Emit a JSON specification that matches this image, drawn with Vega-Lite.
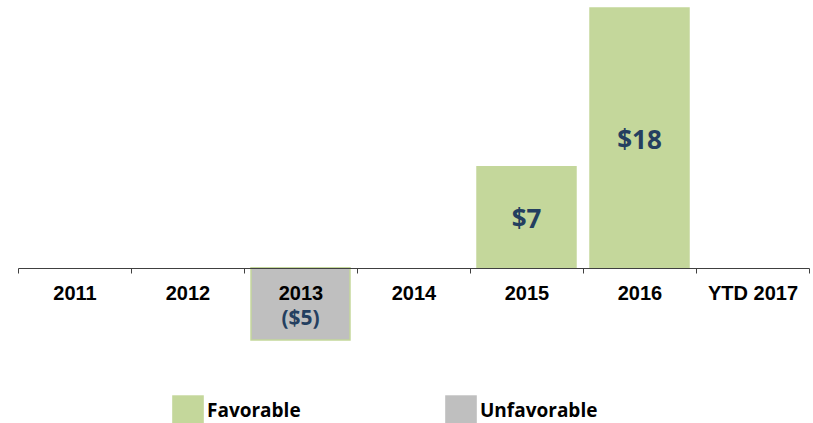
{
  "$schema": "https://vega.github.io/schema/vega-lite/v6.json",
  "autosize": "none",
  "width": 791,
  "height": 332,
  "padding": {"left": 18, "top": 8, "right": 4, "bottom": 83},
  "background": "white",
  "config": {"view": {"stroke": null}},
  "data": {
    "values": [
      {"year": "2011", "value": null, "type": null, "label": ""},
      {"year": "2012", "value": null, "type": null, "label": ""},
      {"year": "2013", "value": -5, "type": "Unfavorable", "label": "($5)"},
      {"year": "2014", "value": null, "type": null, "label": ""},
      {"year": "2015", "value": 7, "type": "Favorable", "label": "$7"},
      {"year": "2016", "value": 18, "type": "Favorable", "label": "$18"},
      {"year": "YTD 2017", "value": null, "type": null, "label": ""}
    ]
  },
  "encoding": {
    "x": {
      "field": "year",
      "type": "nominal",
      "scale": {
        "domain": ["2011", "2012", "2013", "2014", "2015", "2016", "YTD 2017"],
        "paddingInner": 0,
        "paddingOuter": 0
      },
      "axis": {
        "title": null,
        "orient": "bottom",
        "offset": -72,
        "labelAngle": 0,
        "tickBand": "extent",
        "tickSize": 5,
        "tickColor": "#404040",
        "domainColor": "#404040",
        "labelFont": "Liberation Sans",
        "labelFontWeight": "bold",
        "labelFontSize": 20,
        "labelColor": "#000000",
        "labelPadding": 10,
        "zindex": 1
      }
    }
  },
  "layer": [
    {
      "mark": {"type": "bar", "stroke": "#C4D79B", "strokeWidth": 1.5, "width": {"band": 0.876}},
      "encoding": {
        "y": {
          "field": "value",
          "type": "quantitative",
          "scale": {"domain": [-5, 18], "nice": false, "zero": false},
          "axis": null
        },
        "color": {
          "field": "type",
          "type": "nominal",
          "scale": {"domain": ["Favorable", "Unfavorable"], "range": ["#C4D79B", "#BFBFBF"]},
          "legend": {
            "title": null,
            "orient": "none",
            "legendX": 154,
            "legendY": 387,
            "direction": "horizontal",
            "symbolType": "square",
            "symbolSize": 1000,
            "symbolStrokeWidth": 0,
            "symbolOpacity": 1,
            "labelFont": "Open Sans",
            "labelFontWeight": "bold",
            "labelFontSize": 19,
            "labelColor": "#000000",
            "labelOffset": 3,
            "columnPadding": 144
          }
        }
      }
    },
    {
      "transform": [{"filter": "datum.value > 0"}, {"calculate": "datum.value / 2", "as": "mid"}],
      "mark": {"type": "text", "font": "Open Sans", "fontWeight": "bold", "fontSize": 26, "color": "#243F60", "baseline": "middle", "align": "center", "dy": 3},
      "encoding": {
        "y": {"field": "mid", "type": "quantitative"},
        "text": {"field": "label"}
      }
    },
    {
      "transform": [{"filter": "datum.value < 0"}, {"calculate": "datum.value / 2", "as": "mid"}],
      "mark": {"type": "text", "font": "Open Sans", "fontWeight": "bold", "fontSize": 21, "color": "#243F60", "baseline": "middle", "align": "center", "dy": 15},
      "encoding": {
        "y": {"field": "mid", "type": "quantitative"},
        "text": {"field": "label"}
      }
    }
  ]
}
